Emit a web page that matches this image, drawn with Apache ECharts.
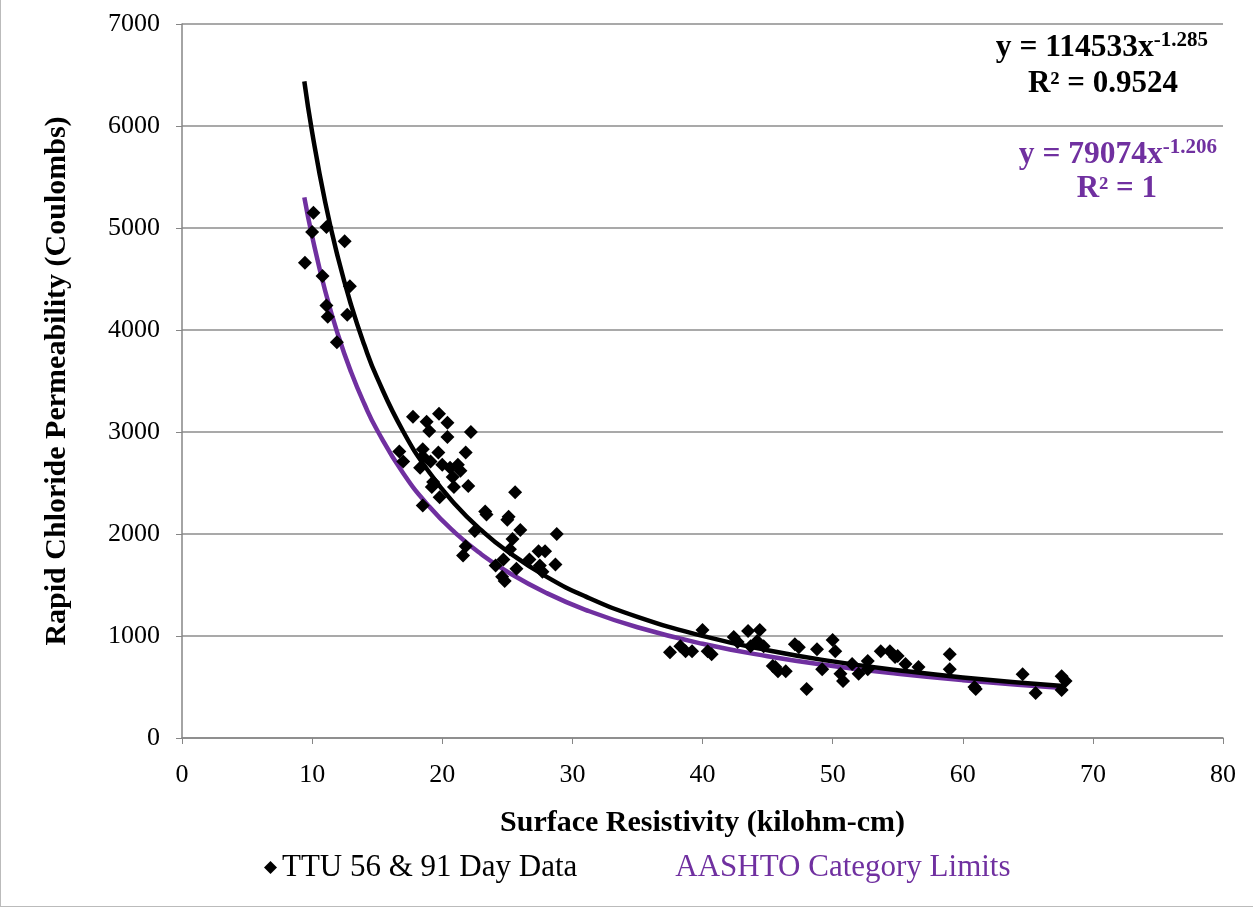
<!DOCTYPE html>
<html>
<head>
<meta charset="utf-8">
<script src="https://cdn.jsdelivr.net/npm/echarts@6/dist/echarts.min.js"></script>
<style>
  html, body { margin: 0; padding: 0; background: #fff; }
  #chart { width: 1253px; height: 907px; box-sizing: border-box; border-left: 1px solid #bbb; border-bottom: 1px solid #bbb; }
</style>
</head>
<body>
<div id="chart"></div>
<script>
// TTU measured points [surface resistivity, RCP]
const ttuX = [
  10.1, 10.0, 11.1, 12.5, 9.45, 10.8, 12.9, 11.1, 11.2, 12.7, 11.9,
  17.75, 18.8, 19.75, 20.4, 19.0, 20.4, 22.2, 16.7, 17.0, 18.5, 18.5, 19.7, 21.8,
  18.3, 19.1, 20.0, 20.6, 21.2, 21.4, 20.8, 19.3, 19.2, 20.9, 22.0, 19.8, 18.5,
  21.6, 21.8, 25.6, 23.3, 23.4, 25.1, 25.0, 22.5, 26.0, 28.8, 25.4, 25.2, 27.4,
  27.9, 26.7, 27.5, 28.7, 24.7, 25.7, 24.1, 24.6, 24.8, 27.7,
  40.0, 37.5, 38.3, 38.7, 39.2, 40.7, 40.4, 42.4, 42.7, 43.5, 44.4, 43.7, 44.2,
  44.7, 45.4, 45.8, 47.1, 47.4, 45.6, 46.4, 48.8, 50.0, 50.2, 48.0, 49.2, 50.6,
  50.8, 51.5, 52.0, 52.7, 52.7, 53.7, 54.4, 54.8, 55.0, 55.6, 56.6, 59.0, 59.0,
  60.9, 61.0, 64.6, 65.6, 67.6, 67.9, 67.6
];
const ttuY = [
  5150, 4960, 5010, 4870, 4660, 4530, 4430, 4240, 4130, 4150, 3880,
  3150, 3100, 3180, 3090, 3010, 2950, 3000, 2810, 2710, 2830, 2760, 2800, 2800,
  2650, 2710, 2680, 2650, 2680, 2620, 2560, 2510, 2460, 2460, 2470, 2360, 2280,
  1790, 1880, 2410, 2220, 2190, 2170, 2140, 2030, 2040, 2000, 1950, 1850, 1830,
  1830, 1750, 1690, 1700, 1750, 1660, 1690, 1580, 1540, 1630,
  1060, 840, 900, 850, 850, 820, 850, 990, 940, 1050, 1060, 900, 950,
  900, 705, 655, 920, 890, 695, 655, 870, 960, 850, 480, 675, 630,
  560, 725, 630, 755, 675, 850, 850, 795, 805, 725, 695, 820, 675,
  500, 480, 625, 440, 605, 560, 470
];

// power trend lines
const curveX = [9.4, 10, 11, 12, 13, 14, 15, 17, 19, 21, 23, 25, 28, 31, 35, 40, 45, 50, 55, 60, 67.7];
const ttuFit = [6437, 5941, 5256, 4703, 4243, 3857, 3530, 3005, 2605, 2290, 2038, 1831, 1582, 1388, 1188, 1001, 860, 751, 665, 594, 509];
const aashtoFit = [5301, 4920, 4385, 3949, 3586, 3279, 3017, 2595, 2269, 2011, 1802, 1630, 1422, 1257, 1086, 924, 802, 706, 629, 567, 490];

const xTicks = [0, 80, 10];
const yTicks = [0, 7000, 1000];

const purple = '#7030a0';
const serif = '"Liberation Serif", "DejaVu Serif", serif';

const chart = echarts.init(document.getElementById('chart'));
const scatterData = ttuX.map((x, i) => [x, ttuY[i]]);
const ttuLine = curveX.map((x, i) => [x, ttuFit[i]]);
const aashtoLine = curveX.map((x, i) => [x, aashtoFit[i]]);

chart.setOption({
  animation: false,
  textStyle: { fontFamily: serif },
  grid: { left: 181, right: 30, top: 24, bottom: 168, containLabel: false },
  xAxis: {
    type: 'value',
    min: xTicks[0], max: xTicks[1], interval: xTicks[2],
    name: 'Surface Resistivity (kilohm-cm)',
    nameLocation: 'middle',
    nameGap: 70,
    nameTextStyle: { fontFamily: serif, fontWeight: 'bold', fontSize: 30, color: '#000' },
    axisLine: { lineStyle: { color: '#868686', width: 1.5 } },
    axisTick: { show: true, inside: false, length: 6, lineStyle: { color: '#868686' } },
    axisLabel: { fontFamily: serif, fontSize: 26, color: '#000', margin: 24, formatter: v => String(v) },
    splitLine: { show: false }
  },
  yAxis: {
    type: 'value',
    min: yTicks[0], max: yTicks[1], interval: yTicks[2],
    name: 'Rapid Chloride Permeability (Coulombs)',
    nameLocation: 'middle',
    nameGap: 110,
    nameTextStyle: { fontFamily: serif, fontWeight: 'bold', fontSize: 30, color: '#000' },
    axisLine: { show: true, lineStyle: { color: '#868686', width: 1.5 } },
    axisTick: { show: true, inside: false, length: 6, lineStyle: { color: '#868686' } },
    axisLabel: { fontFamily: serif, fontSize: 26, color: '#000', margin: 22, formatter: v => String(v) },
    splitLine: { show: true, lineStyle: { color: '#8c8c8c', width: 1.5 } }
  },
  legend: {
    bottom: 18,
    left: 258,
    itemGap: 80,
    itemWidth: 13,
    itemHeight: 13,
    textStyle: { fontFamily: serif, fontSize: 31, color: '#000' },
    data: [
      { name: 'TTU 56 & 91 Day Data', icon: 'diamond' },
      { name: 'AASHTO Category Limits', icon: 'none', textStyle: { color: purple } }
    ]
  },
  graphic: [
    {
      type: 'text', right: 45, top: 30,
      style: {
        rich: {
          a: { fontFamily: serif, fontWeight: 'bold', fontSize: 31.5, fill: '#000' },
          s: { fontFamily: serif, fontWeight: 'bold', fontSize: 21, fill: '#000', verticalAlign: 'top', padding: [0, 0, 14, 0] }
        },
        text: '{a|y = 114533x}{s|-1.285}'
      }
    },
    {
      type: 'text', right: 75, top: 68,
      style: { text: 'R² = 0.9524', fontFamily: serif, fontWeight: 'bold', fontSize: 31, fill: '#000' }
    },
    {
      type: 'text', right: 36, top: 137,
      style: {
        rich: {
          a: { fontFamily: serif, fontWeight: 'bold', fontSize: 31.5, fill: purple },
          s: { fontFamily: serif, fontWeight: 'bold', fontSize: 21, fill: purple, verticalAlign: 'top', padding: [0, 0, 14, 0] }
        },
        text: '{a|y = 79074x}{s|-1.206}'
      }
    },
    {
      type: 'text', right: 96, top: 173,
      style: { text: 'R² = 1', fontFamily: serif, fontWeight: 'bold', fontSize: 31, fill: purple }
    }
  ],
  series: [
    {
      name: 'AASHTO Category Limits',
      type: 'line',
      data: aashtoLine,
      smooth: true,
      showSymbol: false,
      lineStyle: { color: purple, width: 4.5 },
      itemStyle: { color: purple },
      z: 2
    },
    {
      name: 'TTU fit',
      type: 'line',
      data: ttuLine,
      smooth: true,
      showSymbol: false,
      lineStyle: { color: '#000', width: 4.5 },
      itemStyle: { color: '#000' },
      z: 3
    },
    {
      name: 'TTU 56 & 91 Day Data',
      type: 'scatter',
      data: scatterData,
      symbol: 'diamond',
      symbolSize: 14,
      itemStyle: { color: '#000', opacity: 1 },
      z: 4
    }
  ]
});
</script>
</body>
</html>
